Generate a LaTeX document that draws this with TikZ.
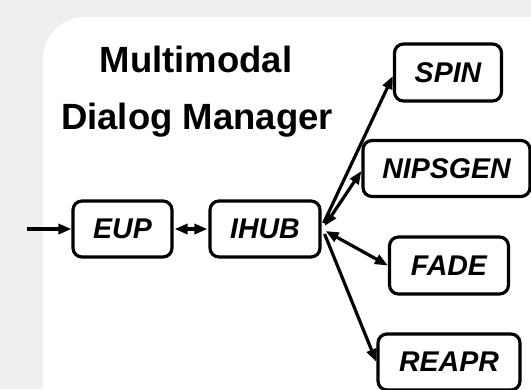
\documentclass[tikz,border=0pt]{standalone}
\usepackage{fontspec}
\setmainfont{Liberation Sans}
\usetikzlibrary{arrows.meta,calc}
\definecolor{bggray}{RGB}{239,239,239}
\begin{document}
\begin{tikzpicture}[x=1pt,y=-1pt,
  box/.style={draw,line width=3.2pt,rounded corners=9pt,fill=white,inner sep=0pt,
    font=\fontsize{28.5}{32}\selectfont\bfseries\itshape},
  conn/.style={line width=3.2pt,-{Triangle[length=13pt,width=10pt]}},
  bconn/.style={line width=3.2pt,{Triangle[length=13pt,width=10pt]}-{Triangle[length=13pt,width=10pt]}},
  title/.style={font=\fontsize{36.5}{40}\selectfont\bfseries}]
\fill[bggray] (0,0) rectangle (531,389);
\useasboundingbox (0,0) rectangle (531,389);
\fill[white,rounded corners=42pt] (43,17) rectangle (580,430);
\node[title] (t1) at (196,59) {Multimodal};
\node[title] (t2) at (197,120) {Dialog Manager};
\node[box,minimum width=107pt,minimum height=57pt] (spin) at (448,72.5) {SPIN};
\node[box,minimum width=167pt,minimum height=56pt] (nips) at (446.5,168.5) {NIPSGEN};
\node[box,minimum width=99pt,minimum height=56pt] (eup) at (122.5,229) {EUP};
\node[box,minimum width=110pt,minimum height=56pt] (ihub) at (265,229) {IHUB};
\node[box,minimum width=119pt,minimum height=57pt] (fade) at (449,265.5) {FADE};
\node[box,minimum width=142pt,minimum height=56pt] (reapr) at (449,362) {REAPR};
\coordinate (in) at (27,229);
\coordinate (h1) at ($(ihub.east)+(2,-6)$);
\coordinate (h2) at ($(ihub.east)+(3,-3)$);
\coordinate (h3) at ($(ihub.east)+(4,2)$);
\coordinate (h4) at ($(ihub.east)+(3,5)$);
\draw[conn] (in) -- (eup.west);
\draw[bconn,shorten <=1pt,shorten >=1pt] (eup.east) -- (ihub.west);
\draw[conn] (h1) -- ($(spin.west)+(0,3.5)$);
\draw[bconn] (h2) -- ($(nips.west)+(0,2.5)$);
\draw[bconn] (h3) -- (fade.west);
\draw[conn] (h4) -- (reapr.west);
\end{tikzpicture}
\end{document}
